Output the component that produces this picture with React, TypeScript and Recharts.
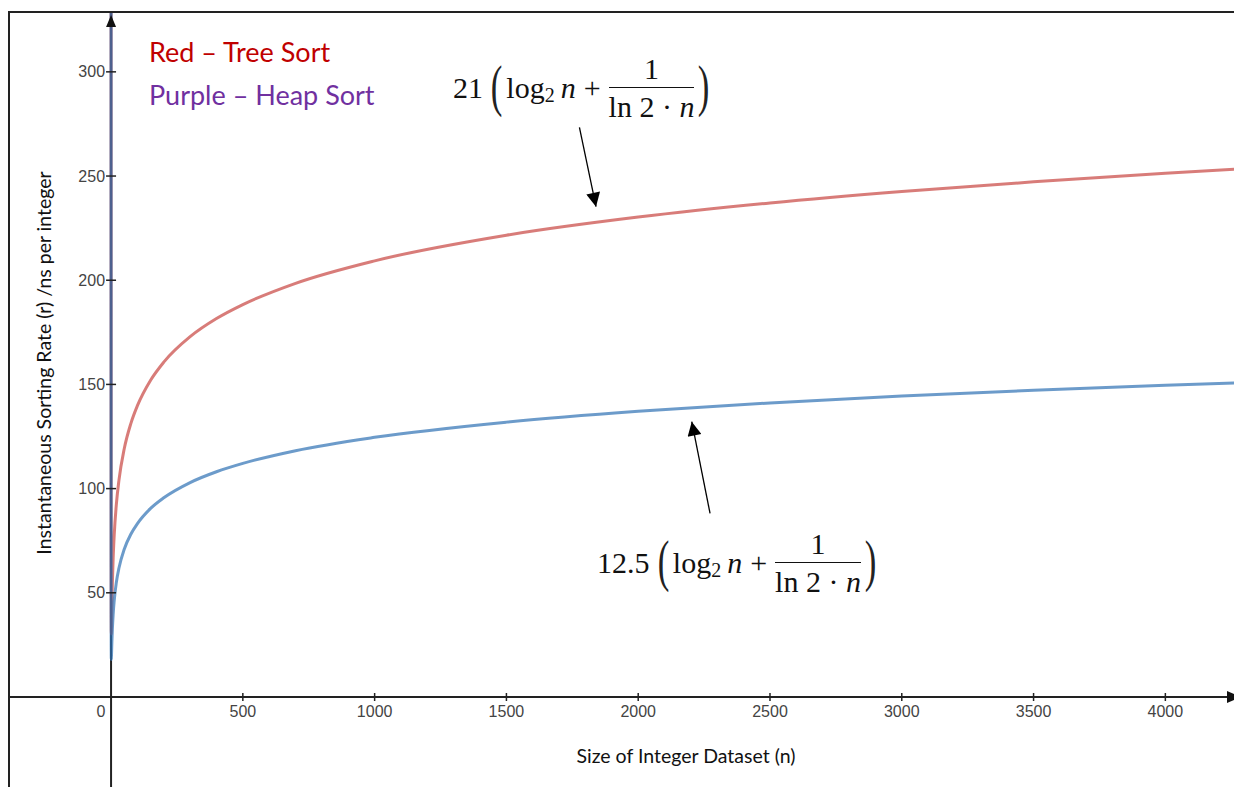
import React from "react";
import { LineChart, Line, XAxis, YAxis, ReferenceLine, ReferenceDot } from "recharts";

// dataset size n and the two rates (ns per integer)
const nValues = [
  0.03, 0.05, 0.08, 0.12, 0.2, 0.3, 0.5, 0.75, 1, 2, 3, 5, 8, 12, 20, 30, 50, 75, 100, 150, 200,
  300, 400, 500, 700, 1000, 1500, 2000, 2500, 3000, 3500, 4000, 4300,
];
const treeRate = [
  903.7, 515.2, 302.2, 188.2, 102.7, 64.5, 39.6, 31.7, 30.3, 36.1, 43.4, 54.8, 66.8, 77.8, 92.3,
  104.1, 119.1, 131.2, 139.8, 152.0, 160.7, 172.9, 181.6, 188.3, 198.5, 209.3, 221.6, 230.3, 237.1,
  242.6, 247.2, 251.3, 253.5,
];
const heapRate = [
  537.9, 306.7, 179.9, 112.0, 61.1, 38.4, 23.6, 18.9, 18.0, 21.5, 25.8, 32.6, 39.8, 46.3, 54.9,
  61.9, 70.9, 78.1, 83.2, 90.5, 95.6, 102.9, 108.1, 112.1, 118.2, 124.6, 131.9, 137.1, 141.1, 144.4,
  147.2, 149.6, 150.9,
];

const xTicks = [500, 1000, 1500, 2000, 2500, 3000, 3500, 4000];
const yTicks = [50, 100, 150, 200, 250, 300];

const X_MIN = -391;
const X_MAX = 4287;
const Y_MIN = -43.2;
const Y_MAX = 329.2;

const data = nValues.map((n, i) => ({ n, tree: treeRate[i], heap: heapRate[i] }));

const tickFont = "'Liberation Sans', Arial, sans-serif";
const textFont = "Lato, 'Open Sans', sans-serif";
const mathFont = "'Liberation Serif', 'DejaVu Serif', serif";

const XTick = (label: string) => (props: any) => {
  const { cx, cy } = props;
  return (
    <g>
      <line x1={cx} y1={cy - 4} x2={cx} y2={cy + 4} stroke="#222" strokeWidth={1.5} />
      <text x={cx} y={cy + 20} textAnchor="middle" fontSize={16} fontFamily={tickFont} fill="#444">
        {label}
      </text>
    </g>
  );
};

const ZeroTick = (props: any) => (
  <text x={props.cx - 10} y={props.cy + 20} textAnchor="middle" fontSize={16} fontFamily={tickFont} fill="#444">
    0
  </text>
);

const YTick = (label: string) => (props: any) => {
  const { cx, cy } = props;
  return (
    <g>
      <line x1={cx - 5} y1={cy} x2={cx + 5} y2={cy} stroke="#222" strokeWidth={1.5} />
      <text x={cx - 6} y={cy + 5.5} textAnchor="end" fontSize={16} fontFamily={tickFont} fill="#444">
        {label}
      </text>
    </g>
  );
};

const RightArrow = (props: any) => (
  <polygon points={`${props.cx},${props.cy} ${props.cx - 14},${props.cy - 6} ${props.cx - 14},${props.cy + 6}`} fill="#111" />
);
const UpArrow = (props: any) => (
  <polygon points={`${props.cx},${props.cy + 4} ${props.cx - 5},${props.cy + 16} ${props.cx + 5},${props.cy + 16}`} fill="#111" />
);

const Paren = ({ ch, style }: { ch: string; style?: React.CSSProperties }) => (
  <span
    style={{
      fontSize: 58,
      display: "inline-block",
      transform: "scaleX(0.6)",
      color: "#222",
      position: "relative",
      top: -2,
      ...style,
    }}
  >
    {ch}
  </span>
);

const Formula = ({ coef, left, top }: { coef: string; left: number; top: number }) => (
  <div
    style={{
      position: "absolute",
      left,
      top,
      display: "flex",
      alignItems: "center",
      fontFamily: mathFont,
      fontSize: 30,
      color: "#111",
      whiteSpace: "nowrap",
      lineHeight: 1,
    }}
  >
    <span>{coef}</span>
    <Paren ch="(" style={{ margin: "0 0 0 4px" }} />
    <span>log</span>
    <span style={{ fontSize: 20, position: "relative", top: 7, marginRight: 6 }}>2</span>
    <span style={{ fontStyle: "italic" }}>n</span>
    <span style={{ margin: "0 8px" }}>+</span>
    <span style={{ display: "inline-flex", flexDirection: "column", alignItems: "center" }}>
      <span style={{ paddingBottom: 3 }}>1</span>
      <span style={{ borderTop: "1.5px solid #111", paddingTop: 4 }}>
        ln 2 · <i>n</i>
      </span>
    </span>
    <Paren ch=")" />
  </div>
);

export default function App() {
  return (
    <div style={{ position: "relative", width: 1234, height: 779 }}>
      <svg width={0} height={0} style={{ position: "absolute" }}>
        <defs>
          <marker
            id="arrowHead"
            viewBox="0 0 10 10"
            refX={10}
            refY={5}
            markerWidth={18}
            markerHeight={14}
            markerUnits="userSpaceOnUse"
            orient="auto"
          >
            <path d="M0,0 L10,5 L0,10 z" fill="#000" />
          </marker>
        </defs>
      </svg>
      <LineChart width={1234} height={779} data={data} margin={{ top: 3, right: 1, bottom: 0, left: 0 }}>
        <XAxis type="number" dataKey="n" domain={[X_MIN, X_MAX]} allowDataOverflow hide />
        <YAxis type="number" domain={[Y_MIN, Y_MAX]} allowDataOverflow hide />
        <ReferenceLine y={0} stroke="#222" strokeWidth={2} />
        <ReferenceLine x={0} stroke="#222" strokeWidth={2} />
        <ReferenceDot x={X_MAX} y={0} ifOverflow="visible" shape={RightArrow} />
        <ReferenceDot x={0} y={Y_MAX} ifOverflow="visible" shape={UpArrow} />
        <ReferenceDot x={0} y={0} ifOverflow="visible" shape={ZeroTick} />
        {xTicks.map((t) => (
          <ReferenceDot key={`x${t}`} x={t} y={0} ifOverflow="visible" shape={XTick(String(t))} />
        ))}
        {yTicks.map((t) => (
          <ReferenceDot key={`y${t}`} x={0} y={t} ifOverflow="visible" shape={YTick(String(t))} />
        ))}
        <Line
          type="monotone"
          dataKey="tree"
          stroke="#c74440"
          strokeOpacity={0.7}
          strokeWidth={3}
          dot={false}
          isAnimationActive={false}
        />
        <Line
          type="monotone"
          dataKey="heap"
          stroke="#2d70b3"
          strokeOpacity={0.7}
          strokeWidth={3}
          dot={false}
          isAnimationActive={false}
        />
        <ReferenceLine
          segment={[
            { x: 1777, y: 273.4 },
            { x: 1840, y: 235.3 },
          ]}
          stroke="#000"
          strokeWidth={1.3}
          markerEnd="url(#arrowHead)"
          ifOverflow="visible"
        />
        <ReferenceLine
          segment={[
            { x: 2272.6, y: 88.1 },
            { x: 2203.2, y: 132.1 },
          ]}
          stroke="#000"
          strokeWidth={1.3}
          markerEnd="url(#arrowHead)"
          ifOverflow="visible"
        />
      </LineChart>

      <div
        style={{
          position: "absolute",
          left: 0,
          top: 3,
          width: 1231,
          height: 776,
          borderLeft: "2px solid #222",
          borderTop: "2px solid #222",
          borderRight: "1px solid #bbb",
          pointerEvents: "none",
        }}
      />

      <div style={{ position: "absolute", left: 141, top: 27, fontFamily: textFont, fontSize: 27, color: "#c00000", lineHeight: "34px" }}>
        Red – Tree Sort
      </div>
      <div style={{ position: "absolute", left: 141, top: 70, fontFamily: textFont, fontSize: 27, color: "#7030a0", lineHeight: "34px" }}>
        Purple – Heap Sort
      </div>

      <div
        style={{
          position: "absolute",
          left: 35,
          top: 355,
          transform: "translate(-50%, -50%) rotate(-90deg)",
          fontFamily: textFont,
          fontSize: 19.5,
          color: "#111",
          whiteSpace: "nowrap",
        }}
      >
        Instantaneous Sorting Rate (r) /ns per integer
      </div>
      <div
        style={{
          position: "absolute",
          left: 678,
          top: 747,
          transform: "translate(-50%, -50%)",
          fontFamily: textFont,
          fontSize: 19.5,
          color: "#111",
          whiteSpace: "nowrap",
        }}
      >
        Size of Integer Dataset (n)
      </div>

      <Formula coef="21" left={445} top={46} />
      <Formula coef="12.5" left={589} top={521} />
    </div>
  );
}
